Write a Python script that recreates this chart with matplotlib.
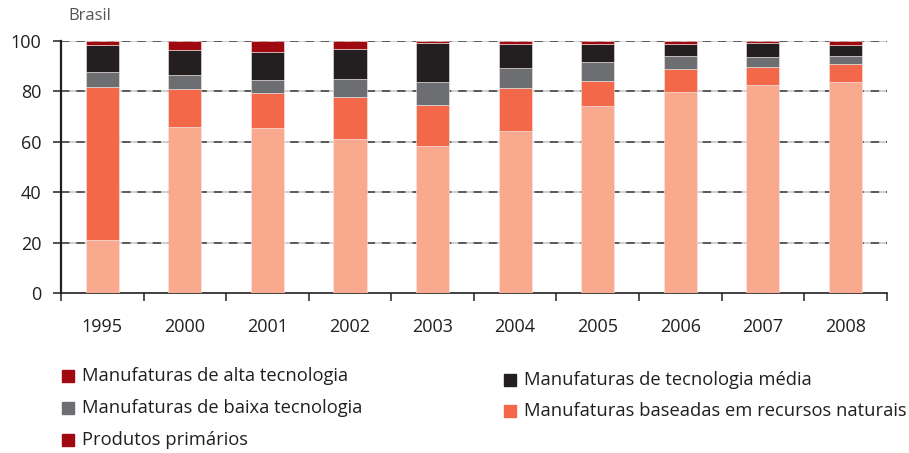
import matplotlib
matplotlib.use("Agg")
import matplotlib.pyplot as plt
from matplotlib.patches import Rectangle
import numpy as np

plt.rcParams['font.family'] = ['Open Sans', 'DejaVu Sans']

years = ["1995", "2000", "2001", "2002", "2003", "2004", "2005", "2006", "2007", "2008"]

# Shares (%) by product group, bottom to top
produtos_primarios = [21.0, 65.8, 65.4, 61.1, 58.2, 64.2, 74.2, 79.8, 82.4, 83.7]
recursos_naturais = [60.5, 14.9, 13.7, 16.7, 16.2, 16.9, 9.8, 9.0, 7.0, 7.2]
baixa_tecnologia = [6.1, 5.7, 5.3, 7.0, 9.2, 8.1, 7.5, 5.1, 4.1, 3.1]
tecnologia_media = [10.8, 9.9, 11.0, 11.9, 15.3, 9.6, 7.3, 4.9, 5.7, 4.3]
alta_tecnologia = [1.6, 3.7, 4.6, 3.3, 1.1, 1.2, 1.2, 1.2, 0.8, 1.7]

series = [
    (produtos_primarios, "#F8A98E"),
    (recursos_naturais, "#F26849"),
    (baixa_tecnologia, "#6D6E71"),
    (tecnologia_media, "#231F20"),
    (alta_tecnologia, "#9E0A10"),
]

fig = plt.figure(figsize=(9.09, 4.53), dpi=100)
ax = fig.add_axes([0.0671, 0.3525, 0.9084, 0.5577])

x = np.arange(len(years))
bottom = np.zeros(len(years))
for vals, col in series:
    ax.bar(x, vals, width=0.4, bottom=bottom, color=col, edgecolor="#f4e9e6",
           linewidth=0.4, zorder=3)
    bottom += np.array(vals)

ax.set_xlim(-0.5, 9.5)
ax.set_ylim(0, 100)

# horizontal grid: light base line with dark dashes on top
for yv in [20, 40, 60, 80, 100]:
    ax.axhline(yv, color="#c4c4c4", lw=1.1, zorder=1)
    ax.axhline(yv, color="#3a3a3a", lw=1.1, ls=(0, (5.5, 4.5)), zorder=2)

ax.set_yticks([0, 20, 40, 60, 80, 100])
ax.set_xticks(x)
ax.set_xticklabels(years)
ax.set_xticks(np.arange(-0.5, 10, 1.0), minor=True)
ax.tick_params(axis="x", which="major", length=0, pad=18, labelsize=13, colors="#231F20")
ax.tick_params(axis="x", which="minor", length=6, width=1.1, direction="out", color="#231F20")
ax.tick_params(axis="y", length=6, width=1.1, direction="out", pad=8, labelsize=13,
               colors="#231F20")

for s in ["top", "right"]:
    ax.spines[s].set_visible(False)
ax.spines["left"].set_linewidth(1.6)
ax.spines["left"].set_color("#231F20")
ax.spines["bottom"].set_linewidth(1.2)
ax.spines["bottom"].set_color("#231F20")

fig.text(68 / 909, 1 - 16 / 453, "Brasil", fontsize=12, color="#555555",
         ha="left", va="center")

# legend
legend_labels = [
    "Manufaturas de alta tecnologia",
    "Manufaturas de baixa tecnologia",
    "Produtos primários",
    "Manufaturas de tecnologia média",
    "Manufaturas baseadas em recursos naturais",
]
legend_colors = ["#9E0A10", "#6D6E71", "#9E0A10", "#231F20", "#F26849"]
legend_pos = [(62, 376), (62, 408), (62, 440), (504, 380), (504, 411)]

W, H = 909, 453
for lab, col, (px, py) in zip(legend_labels, legend_colors, legend_pos):
    fig.patches.append(Rectangle((px / W, 1 - (py + 6) / H), 12 / W, 12 / H,
                                 transform=fig.transFigure, color=col))
    fig.text((px + 20) / W, 1 - py / H, lab, fontsize=13.2, color="#231F20",
             ha="left", va="center")

fig.savefig("out.png", dpi=100)
